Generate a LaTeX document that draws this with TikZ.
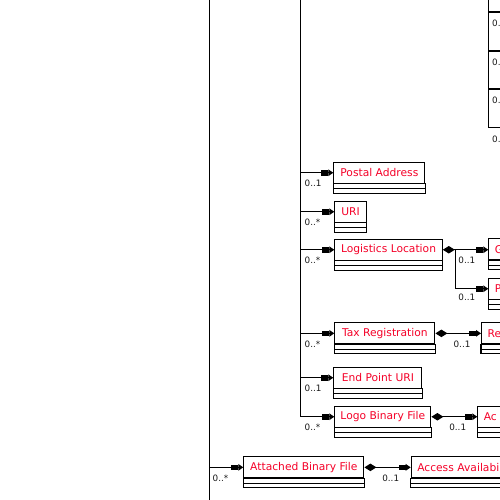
\documentclass[tikz,border=0pt]{standalone}
\usepackage{fontspec}
\setmainfont{DejaVu Sans}
\usetikzlibrary{arrows.meta}
\definecolor{namered}{RGB}{245,0,40}
\newcommand\umlcomp[1]{%
  \draw[line] (#1.south west) rectangle ([yshift=-9.5pt]#1.south east);
  \draw[line] ([yshift=-5pt]#1.south west) -- ([yshift=-5pt]#1.south east);}
\begin{document}
\begin{tikzpicture}[x=1pt,y=-1pt,
  every node/.style={inner sep=0pt},
  line/.style={line width=1.1pt},
  cls/.style={draw, line width=1.1pt, minimum height=21pt, anchor=north west,
    text=namered, font=\fontsize{10.7}{12}\selectfont},
  cut/.style={cls, inner xsep=6pt, text width=120pt, align=left},
  card/.style={anchor=north west, font=\fontsize{8.8}{10}\selectfont, text=black!90},
  assoc/.style={line width=1.1pt,
    -{Rectangle[length=7pt,width=5.5pt]Triangle[length=5pt,width=6.5pt]}},
  comp/.style={line width=1.1pt,
    {Diamond[length=12pt,width=7.5pt]}-{Rectangle[length=7pt,width=5.5pt]Triangle[length=5pt,width=6.5pt]}},
]
\clip (0,0) rectangle (500,500);
\fill[white] (0,0) rectangle (500,500);

% class boxes
\node[cls, minimum width=91pt]    (pa)   at (333.3,161.7) {Postal Address};
\node[cls, minimum width=31.4pt]  (uri)  at (334.3,200.7) {URI};
\node[cls, minimum width=107.4pt] (ll)   at (334.3,238.7) {Logistics Location};
\node[cls, minimum width=100pt]   (tax)  at (334.3,322.3) {Tax Registration};
\node[cls, minimum width=88pt]    (ep)   at (333.3,366.7) {End Point URI};
\node[cls, minimum width=96pt]    (logo) at (334.3,405.7) {Logo Binary File};
\node[cls, minimum width=120pt]   (att)  at (243.3,456.3) {Attached Binary File};
\node[cut] (gc) at (488.3,238.3) {G};
\node[cut] (pp) at (488.3,277.7) {P};
\node[cut] (re) at (481,322.3)   {Re};
\node[cut] (ac) at (477.3,405.7) {Ac};
\node[cut] (aa) at (410.7,456.3) {Access Availabil};

\umlcomp{pa}\umlcomp{uri}\umlcomp{ll}\umlcomp{tax}\umlcomp{ep}\umlcomp{logo}
\umlcomp{att}\umlcomp{gc}\umlcomp{pp}\umlcomp{re}\umlcomp{ac}\umlcomp{aa}

% outer trunk
\coordinate (ot) at (209.5,0);
\coordinate (ob) at (209.5,500);
\draw[line] (ot) -- (ob);
\draw[assoc] (ot |- att.west) -- (att.west);
\node[card] at ([xshift=3pt,yshift=-7pt] ot |- att.west) {0..*};

% inner trunk
\coordinate (tr) at (300.5,0);
\draw[line] (tr) -- (tr |- logo.west);
\draw[assoc] (tr |- pa.west) -- (pa.west);
\node[card] at ([xshift=4pt,yshift=-7pt] tr |- pa.west) {0..1};
\draw[assoc] (tr |- uri.west) -- (uri.west);
\node[card] at ([xshift=4pt,yshift=-7pt] tr |- uri.west) {0..*};
\draw[assoc] (tr |- ll.west) -- (ll.west);
\node[card] at ([xshift=4pt,yshift=-7pt] tr |- ll.west) {0..*};
\draw[assoc] (tr |- tax.west) -- (tax.west);
\node[card] at ([xshift=4pt,yshift=-7pt] tr |- tax.west) {0..*};
\draw[assoc] (tr |- ep.west) -- (ep.west);
\node[card] at ([xshift=4pt,yshift=-7pt] tr |- ep.west) {0..1};
\draw[assoc] (tr |- logo.west) -- (logo.west);
\node[card] at ([xshift=4pt,yshift=-7pt] tr |- logo.west) {0..*};

% compositions
\coordinate (jl) at (455.7,0);
\draw[comp] (ll.east) -- (ll.east -| gc.west);
\draw[assoc] (jl |- ll.east) -- (jl |- pp.west) -- (pp.west);
\node[card] at ([xshift=2.5pt,yshift=-7pt] jl |- ll.east) {0..1};
\node[card] at ([xshift=2.5pt,yshift=-5pt] jl |- pp.west) {0..1};
\draw[comp] (tax.east) -- (tax.east -| re.west);
\node[card] at ([xshift=18pt,yshift=-7pt] tax.east) {0..1};
\draw[comp] (logo.east) -- (logo.east -| ac.west);
\node[card] at ([xshift=17.7pt,yshift=-7pt] logo.east) {0..1};
\draw[comp] (att.east) -- (att.east -| aa.west);
\node[card] at ([xshift=17.7pt,yshift=-7pt] att.east) {0..1};

% trunk at the upper right
\coordinate (rt) at (488.3,0);
\coordinate (r1) at (520,12);
\coordinate (r2) at (520,51);
\coordinate (r3) at (520,89);
\coordinate (r4) at (520,127.5);
\draw[line] (rt) -- (rt |- r4) -- (r4);
\draw[line] (rt |- r1) -- (r1);
\draw[line] (rt |- r2) -- (r2);
\draw[line] (rt |- r3) -- (r3);
\node[card] at ([xshift=3.7pt,yshift=-8pt] rt |- r1) {0.};
\node[card] at ([xshift=3.7pt,yshift=-8pt] rt |- r2) {0.};
\node[card] at ([xshift=3.7pt,yshift=-8pt] rt |- r3) {0.};
\node[card] at ([xshift=3.7pt,yshift=-8pt] rt |- r4) {0.};
\end{tikzpicture}
\end{document}
